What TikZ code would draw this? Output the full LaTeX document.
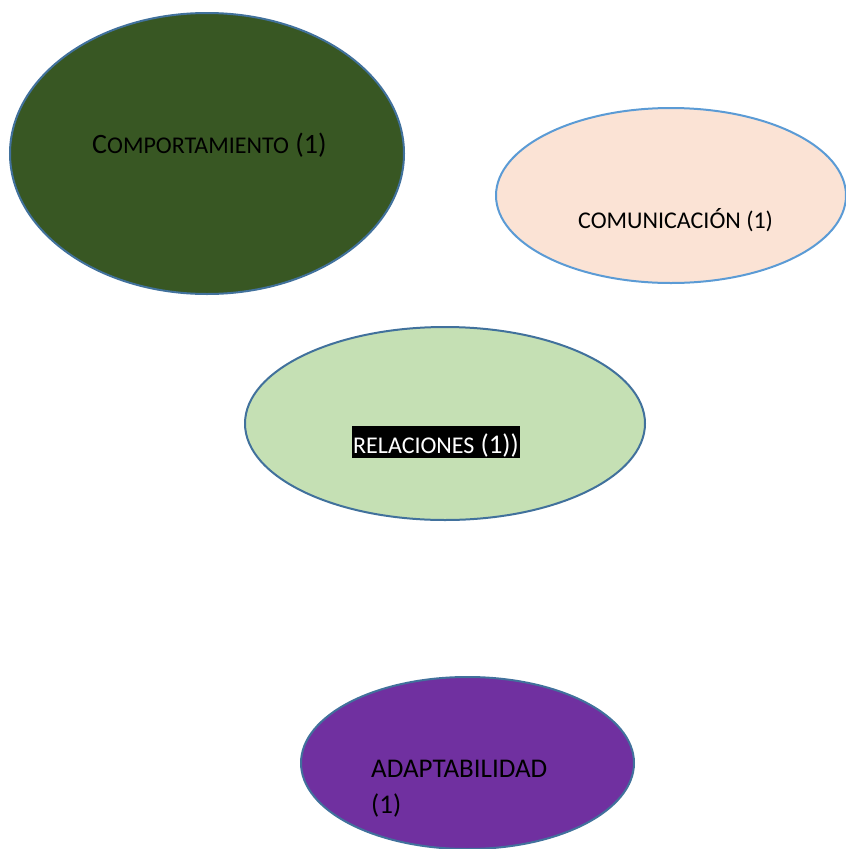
\documentclass[tikz,border=0pt]{standalone}
\usepackage{fontspec}
\setmainfont{Carlito}
\usetikzlibrary{shapes.geometric}
\definecolor{darkgreen}{HTML}{385723}
\definecolor{outlineblue}{HTML}{41719C}
\definecolor{peach}{HTML}{FBE3D5}
\definecolor{lightblue}{HTML}{5B9BD5}
\definecolor{palegreen}{HTML}{C5E0B4}
\definecolor{purple}{HTML}{7030A0}
\tikzset{
  bubble/.style={ellipse, draw=outlineblue, line width=2pt, inner sep=0pt},
  label/.style={inner sep=0pt, text=black}
}
\newcommand{\sz}[2]{{\fontsize{#1}{#1}\selectfont #2}}
\begin{document}
\begin{tikzpicture}[x=1pt,y=-1pt]
  \useasboundingbox (0,0) rectangle (846,849);
  \clip (0,0) rectangle (846,849);
  % ovals
  \node[bubble, fill=darkgreen, minimum width=394pt, minimum height=281pt] (comp) at (207,153.5) {};
  \node[bubble, fill=peach, draw=lightblue, minimum width=350pt, minimum height=175pt] (comu) at (671,195.5) {};
  \node[bubble, fill=palegreen, minimum width=400pt, minimum height=193pt] (rel) at (445,423.5) {};
  \node[bubble, fill=purple, minimum width=333pt, minimum height=172pt] (adap) at (467.5,763) {};
  % labels
  \node[label, anchor=base west] (tcomp) at (92,153) {\sz{28}{C}\sz{24}{OMPORTAMIENTO}\sz{28}{ (1)}};
  \node[label, anchor=base west] (tcomu) at (578,228) {\sz{24}{COMUNICACIÓN (1)}};
  \node[label, anchor=base west, fill=black, text=white, inner xsep=1pt, inner ysep=0pt,
        text height=27pt, text depth=5pt] (trel) at (352,453)
    {\sz{24}{RELACIONES}\sz{27}{ (1))}};
  % two-line label: the base anchor sits on the last line
  \node[label, anchor=base west, align=left, font=\fontsize{27}{36}\selectfont] (tadap) at (371,813) {ADAPTABILIDAD\\(1)};
\end{tikzpicture}
\end{document}
